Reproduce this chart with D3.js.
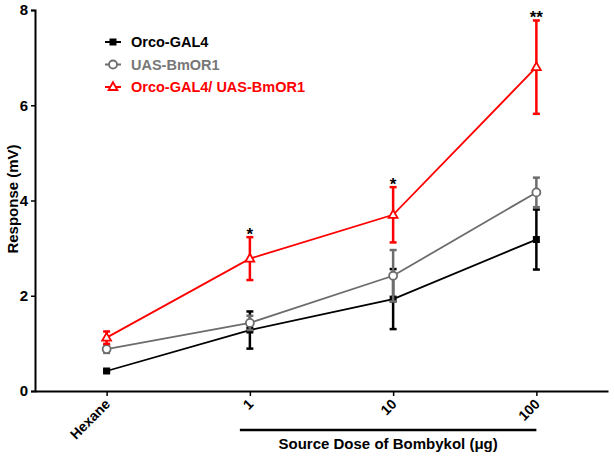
<!DOCTYPE html>
<html>
<head>
<meta charset="utf-8">
<script src="https://cdn.jsdelivr.net/npm/d3@7"></script>
<style>
  body { margin: 0; background: #fff; }
  svg { display: block; font-family: "Liberation Sans", Arial, sans-serif; }
</style>
</head>
<body>
<svg id="chart" width="614" height="459"></svg>
<script>
const categories = ["Hexane", "1", "10", "100"];
const yTicks = [0, 2, 4, 6, 8];
const seriesNames = ["Orco-GAL4", "UAS-BmOR1", "Orco-GAL4/ UAS-BmOR1"];
const orcoMean = [0.42, 1.28, 1.93, 3.18];
const orcoSem  = [0.03, 0.39, 0.63, 0.63];
const uasMean  = [0.88, 1.43, 2.42, 4.17];
const uasSem   = [0.08, 0.15, 0.54, 0.31];
const crossMean = [1.12, 2.78, 3.70, 6.80];
const crossSem  = [0.13, 0.45, 0.58, 0.98];
const stars = ["", "*", "*", "**"];
const xTitle = "Source Dose of Bombykol (\u03bcg)";
const yTitle = "Response (mV)";

const svg = d3.select("#chart");
const x = d3.scalePoint().domain(categories).range([35, 608]).padding(0.5);
const y = d3.scaleLinear().domain([0, 8]).range([391, 10]);

// axes
const yAxis = svg.append("g").attr("transform", "translate(35,0)")
  .call(d3.axisLeft(y).tickValues(yTicks).tickSize(4).tickPadding(3));
yAxis.select(".domain").attr("stroke", "#000").attr("stroke-width", 2);
yAxis.selectAll(".tick line").attr("stroke", "#000").attr("stroke-width", 1.5);
yAxis.selectAll(".tick text").attr("font-size", 15).attr("font-weight", "bold").attr("fill", "#000")
  .attr("font-family", "Liberation Sans, Arial, sans-serif");

const xAxis = svg.append("g").attr("transform", "translate(0,391)")
  .call(d3.axisBottom(x).tickSize(5).tickSizeOuter(0));
xAxis.select(".domain").attr("stroke", "#000").attr("stroke-width", 2);
xAxis.selectAll(".tick line").attr("stroke", "#000").attr("stroke-width", 1.5);
xAxis.selectAll(".tick text")
  .attr("font-size", 14).attr("font-weight", "bold").attr("fill", "#000")
  .attr("font-family", "Liberation Sans, Arial, sans-serif")
  .attr("text-anchor", "end").attr("dy", null).attr("y", 0)
  .attr("transform", "translate(4,14) rotate(-45)");

// bracket & title
svg.append("line").attr("x1", x("1") - 10).attr("x2", x("100"))
  .attr("y1", 430).attr("y2", 430).attr("stroke", "#000").attr("stroke-width", 2.5);
svg.append("text").attr("x", (x("1") - 10 + x("100")) / 2).attr("y", 449)
  .attr("text-anchor", "middle").attr("font-size", 15).attr("font-weight", "bold").text(xTitle);
svg.append("text").attr("transform", "translate(18,199) rotate(-90)")
  .attr("text-anchor", "middle").attr("font-size", 15).attr("font-weight", "bold").text(yTitle);

const series = [
  { name: seriesNames[0], mean: orcoMean, sem: orcoSem, color: "#000000", marker: "square" },
  { name: seriesNames[1], mean: uasMean, sem: uasSem, color: "#6d6d6d", marker: "circle" },
  { name: seriesNames[2], mean: crossMean, sem: crossSem, color: "#ff0000", marker: "triangle" }
];

function drawMarker(g, type, color) {
  if (type === "square") {
    g.append("rect").attr("x", -3.5).attr("y", -3.5).attr("width", 7).attr("height", 7).attr("fill", color);
  } else if (type === "circle") {
    g.append("circle").attr("r", 4).attr("fill", "#fff").attr("stroke", color).attr("stroke-width", 1.8);
  } else {
    g.append("path").attr("d", "M0,-4.8 L4.4,3 L-4.4,3 Z").attr("fill", "#fff")
      .attr("stroke", color).attr("stroke-width", 1.8);
  }
}

const line = d3.line().x(d => x(d.c)).y(d => y(d.v));
series.forEach(s => {
  const pts = categories.map((c, i) => ({ c, v: s.mean[i], e: s.sem[i] }));
  const g = svg.append("g");
  g.append("path").datum(pts).attr("d", line).attr("fill", "none")
    .attr("stroke", s.color).attr("stroke-width", 1.8);
  pts.forEach(p => {
    const cx = x(p.c);
    g.append("line").attr("x1", cx).attr("x2", cx).attr("y1", y(p.v - p.e)).attr("y2", y(p.v + p.e))
      .attr("stroke", s.color).attr("stroke-width", 2.5);
    [p.v - p.e, p.v + p.e].forEach(v => {
      g.append("line").attr("x1", cx - 3.5).attr("x2", cx + 3.5).attr("y1", y(v)).attr("y2", y(v))
        .attr("stroke", s.color).attr("stroke-width", 2.5);
    });
    const m = g.append("g").attr("transform", `translate(${cx},${y(p.v)})`);
    drawMarker(m, s.marker, s.color);
  });
});

// significance stars
categories.forEach((c, i) => {
  if (!stars[i]) return;
  svg.append("text").attr("x", x(c)).attr("y", y(crossMean[i] + crossSem[i]) + 3)
    .attr("text-anchor", "middle").attr("font-size", 17).attr("font-weight", "bold").text(stars[i]);
});

// legend
series.forEach((s, i) => {
  const ly = 42 + i * 22.5;
  const g = svg.append("g");
  g.append("line").attr("x1", 105).attr("x2", 121).attr("y1", ly).attr("y2", ly)
    .attr("stroke", s.color).attr("stroke-width", 2);
  drawMarker(g.append("g").attr("transform", `translate(113,${ly})`), s.marker, s.color);
  g.append("text").attr("x", 131).attr("y", ly + 5).attr("font-size", 14.5).attr("font-weight", "bold")
    .attr("fill", s.color === "#6d6d6d" ? "#777777" : s.color).text(s.name);
});
</script>
</body>
</html>
